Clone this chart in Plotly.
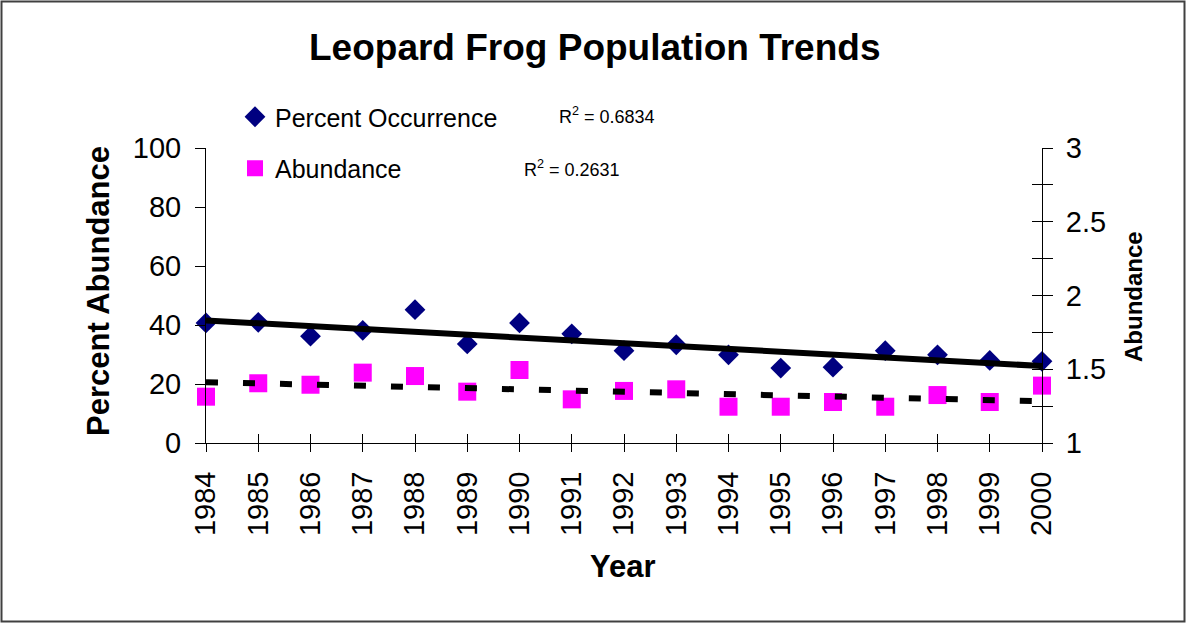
import numpy as np
import plotly.graph_objects as go

years = list(range(1984, 2001))
percent_occurrence = [40.7, 40.9, 36.2, 38.2, 45.2, 33.6, 40.7, 37.0, 31.3,
                      33.3, 29.9, 25.4, 25.7, 31.3, 29.9, 28.0, 27.7]
abundance = [1.314, 1.405, 1.395, 1.477, 1.454, 1.348, 1.495, 1.296, 1.353,
             1.364, 1.246, 1.246, 1.278, 1.246, 1.325, 1.278, 1.389]
left_ticks = [0, 20, 40, 60, 80, 100]
right_ticks = [1, 1.5, 2, 2.5, 3]
right_minor_ticks = [1.25, 1.75, 2.25, 2.75]
all_right_ticks = [1, 1.25, 1.5, 1.75, 2, 2.25, 2.5, 2.75, 3]
r2_text = ["R<sup>2</sup> = 0.6834", "R<sup>2</sup> = 0.2631"]

W, H = 1186, 623
L, R, T, B = 206, 1042, 148, 443
FONT = "Liberation Sans, Arial, sans-serif"


def px(x):
    return (x - L) / (R - L)


def py(y):
    return (B - y) / (B - T)


# linear trendlines from the data
yrs = np.array(years, dtype=float)
p1 = np.polyfit(yrs, np.array(percent_occurrence), 1)
p2 = np.polyfit(yrs, np.array(abundance), 1)
trend_x = [years[0], years[-1]]
trend1 = list(np.polyval(p1, trend_x))
trend2 = list(np.polyval(p2, trend_x))

fig = go.Figure()
fig.add_trace(go.Scatter(
    x=years, y=percent_occurrence, mode="markers", name="Percent Occurrence",
    marker=dict(symbol="diamond", size=16, color="#000080"),
    cliponaxis=False, legendgroup="a"))
fig.add_trace(go.Scatter(
    x=trend_x, y=trend1, mode="lines", showlegend=False,
    line=dict(color="black", width=6), cliponaxis=False))
fig.add_trace(go.Scatter(
    x=years, y=abundance, mode="markers", name="Abundance", yaxis="y2",
    marker=dict(symbol="square", size=18, color="#FF00FF"),
    cliponaxis=False, legendgroup="b"))
fig.add_trace(go.Scatter(
    x=trend_x, y=trend2, mode="lines", showlegend=False, yaxis="y2",
    line=dict(color="black", width=6, dash="12px,25px"), cliponaxis=False))
# helper empty traces so the overlay axes (inner halves of crossing ticks) draw
fig.add_trace(go.Scatter(x=[], y=[], xaxis="x2", yaxis="y", showlegend=False,
                         hoverinfo="skip"))
fig.add_trace(go.Scatter(x=[], y=[], xaxis="x", yaxis="y3", showlegend=False,
                         hoverinfo="skip"))

tickfont = dict(family=FONT, size=29, color="black")
fig.update_layout(
    width=W, height=H,
    margin=dict(l=L, r=W - R, t=T, b=H - B, pad=0),
    paper_bgcolor="white", plot_bgcolor="white",
    font=dict(family=FONT, color="black"),
    showlegend=True,
    legend=dict(x=px(235), y=py(94), xanchor="left", yanchor="top",
                font=dict(family=FONT, size=25, color="black"),
                bgcolor="rgba(0,0,0,0)", traceorder="grouped",
                tracegroupgap=16, itemsizing="trace"),
    xaxis=dict(range=[1984, 2000], tickvals=years, tickangle=-90,
               showline=True, linecolor="black", linewidth=1,
               ticks="outside", ticklen=8, tickcolor="black", tickwidth=1,
               showgrid=False, zeroline=False, tickfont=tickfont,
               ticklabelstandoff=8),
    xaxis2=dict(range=[1984, 2000], tickvals=years, overlaying="x",
                anchor="y", side="bottom", ticks="inside", ticklen=9,
                tickcolor="black", showticklabels=False, showgrid=False,
                zeroline=False, showline=False),
    yaxis=dict(range=[0, 100], tickvals=left_ticks, showline=True,
               linecolor="black", linewidth=1, ticks="outside", ticklen=10,
               tickcolor="black", showgrid=False, zeroline=False,
               tickfont=tickfont, ticklabelstandoff=8),
    yaxis2=dict(range=[1, 3], tickvals=right_ticks,
                minor=dict(tickvals=right_minor_ticks, ticks="outside",
                           ticklen=10, tickcolor="black", showgrid=False),
                overlaying="y", side="right", anchor="x", showline=True,
                linecolor="black", linewidth=1, ticks="outside", ticklen=10,
                tickcolor="black", showgrid=False, zeroline=False,
                tickfont=tickfont, ticklabelstandoff=7),
    yaxis3=dict(range=[1, 3], tickvals=all_right_ticks, overlaying="y",
                side="right", anchor="x", ticks="inside", ticklen=10,
                tickcolor="black", showticklabels=False, showgrid=False,
                zeroline=False, showline=False),
)

annots = [
    dict(text="<b>Leopard Frog Population Trends</b>", x=px(594), y=py(47),
         font=dict(size=37)),
    dict(text="<b>Percent Abundance</b>", x=px(98), y=py(291), textangle=-90,
         font=dict(size=31)),
    dict(text="<b>Abundance</b>", x=px(1133), y=py(297), textangle=-90,
         font=dict(size=24)),
    dict(text="<b>Year</b>", x=px(623), y=py(566), font=dict(size=31)),
    dict(text=r2_text[0], x=px(557), y=py(116), xanchor="left",
         font=dict(size=18)),
    dict(text=r2_text[1], x=px(522), y=py(168), xanchor="left",
         font=dict(size=18)),
]
for a in annots:
    a.setdefault("xanchor", "center")
    a["font"].update(family=FONT, color="black")
    fig.add_annotation(xref="paper", yref="paper", yanchor="middle",
                       showarrow=False, **a)

fig.add_shape(type="rect", xref="paper", yref="paper",
              x0=px(1.5), x1=px(1184.5), y0=py(621.5), y1=py(1.5),
              line=dict(color="#404040", width=2), fillcolor="rgba(0,0,0,0)",
              layer="above")

fig.write_html("out.html", config={"displayModeBar": False},
               post_script="document.body.style.margin='0';"
                           "document.body.style.overflow='hidden';")
